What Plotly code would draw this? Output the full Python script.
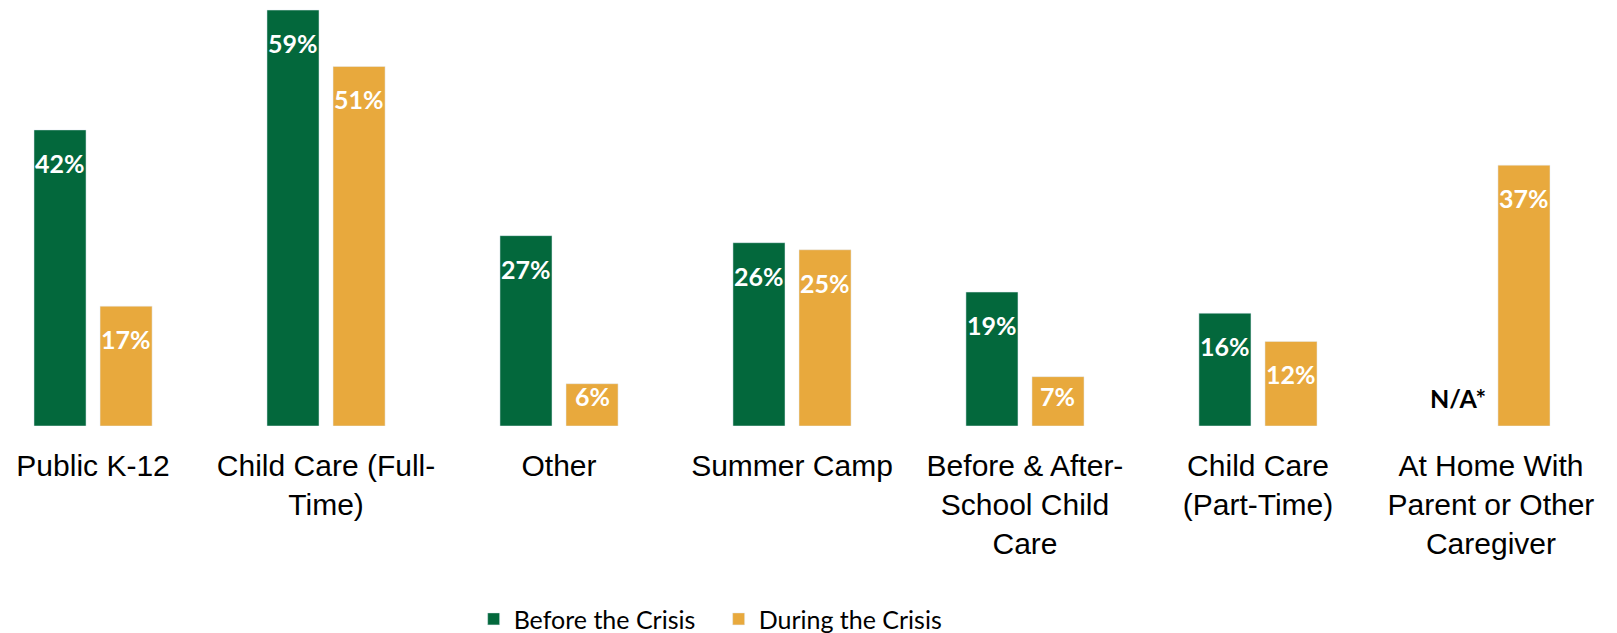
import plotly.graph_objects as go

categories = [
    "Public K-12",
    "Child Care (Full-<br>Time)",
    "Other",
    "Summer Camp",
    "Before & After-<br>School Child<br>Care",
    "Child Care<br>(Part-Time)",
    "At Home With<br>Parent or Other<br>Caregiver",
]
before_values = [42, 59, 27, 26, 19, 16, None]
during_values = [17, 51, 6, 25, 7, 12, 37]
series_names = ["Before the Crisis", "During the Crisis"]
na_label = "N/A*"

GREEN = "#03683C"
ORANGE = "#E8A93D"

# layout geometry (page body has an 8px margin)
FIG_W, FIG_H = 1609, 625
PLOT_H = 418
Y_MAX = 59.29
PX_PER_UNIT = PLOT_H / Y_MAX

fig = go.Figure()
fig.add_trace(go.Bar(x=categories, y=before_values, name=series_names[0],
                     marker_color=GREEN, hoverinfo="skip"))
fig.add_trace(go.Bar(x=categories, y=during_values, name=series_names[1],
                     marker_color=ORANGE, hoverinfo="skip"))

label_font = dict(family="Lato", size=25, color="white")
for vals, shift in ((before_values, -33), (during_values, 33)):
    for cat, v in zip(categories, vals):
        if v is None:
            fig.add_annotation(x=cat, y=0, text="<b>%s</b>" % na_label, showarrow=False,
                               xshift=shift, yshift=28, yanchor="middle",
                               font=dict(family="Lato", size=25, color="black"))
        else:
            off = min(33, v * PX_PER_UNIT - 30)
            fig.add_annotation(x=cat, y=v, text="<b>%d%%</b>" % v, showarrow=False,
                               xshift=shift, yshift=-off, yanchor="middle",
                               font=label_font)

fig.update_layout(
    width=FIG_W, height=FIG_H,
    paper_bgcolor="white", plot_bgcolor="white",
    margin=dict(l=0, r=0, t=0, b=FIG_H - PLOT_H, autoexpand=False),
    barmode="group", bargap=0.433, bargroupgap=0.212,
    showlegend=True,
    legend=dict(orientation="h", x=0.2894, xanchor="left", y=-0.407, yanchor="top",
                font=dict(family="Lato", size=25, color="black"),
                entrywidth=200, traceorder="normal"),
    xaxis=dict(range=[-0.365, 6.541], showgrid=False, showline=False, zeroline=False,
               ticks="outside", ticklen=13, tickcolor="rgba(0,0,0,0)",
               tickfont=dict(family="Liberation Sans", size=30, color="black"),
               tickangle=0),
    yaxis=dict(range=[0, Y_MAX], visible=False, showgrid=False, zeroline=False),
)

fig.write_html("out.html")
